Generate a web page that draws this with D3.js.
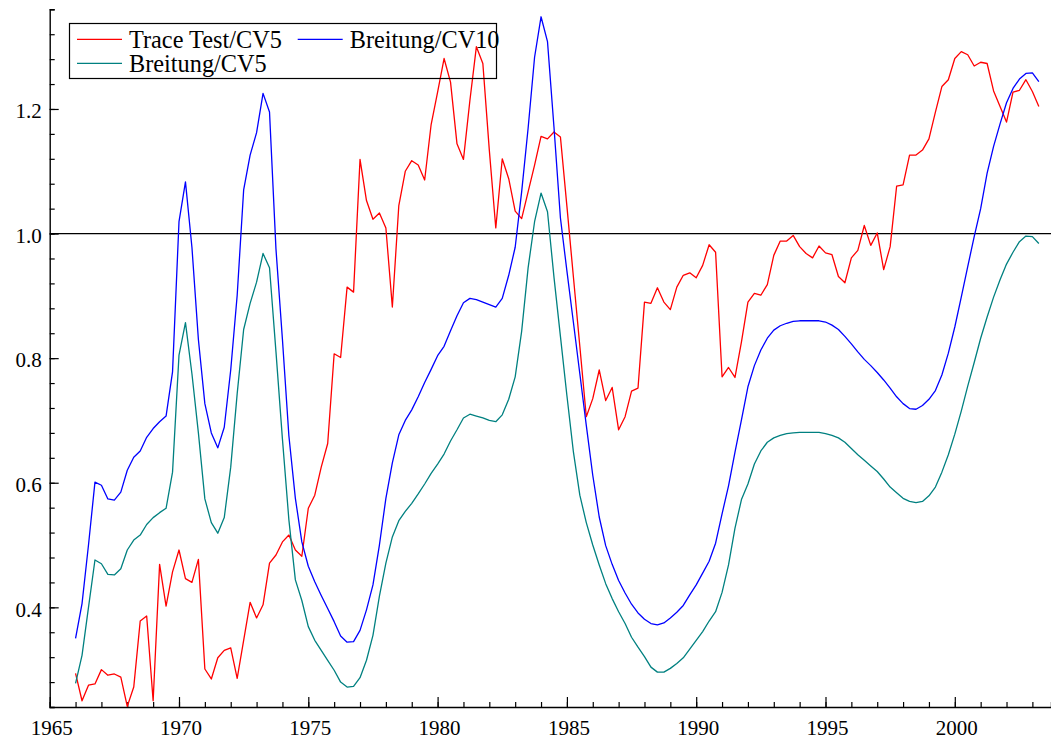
<!DOCTYPE html>
<html>
<head>
<meta charset="utf-8">
<script src="https://cdn.jsdelivr.net/npm/d3@7"></script>
<style>
  body { margin: 0; background: #fff; }
  svg { display: block; }
</style>
</head>
<body>
<div id="chart"></div>
<script>
// quarterly observations, first one is 1966 Q1
var firstQuarter = 1966;
var quartersPerYear = 4;

var traceCV5 = [
  0.294, 0.250, 0.275, 0.277, 0.300, 0.291, 0.293, 0.288, 0.241, 0.272,
  0.378, 0.386, 0.250, 0.469, 0.402, 0.457, 0.492, 0.446, 0.440, 0.477,
  0.301, 0.285, 0.319, 0.331, 0.335, 0.286, 0.347, 0.408, 0.383, 0.404,
  0.471, 0.484, 0.505, 0.516, 0.492, 0.482, 0.559, 0.580, 0.625, 0.663,
  0.807, 0.801, 0.914, 0.906, 1.119, 1.053, 1.023, 1.033, 1.009, 0.882,
  1.045, 1.100, 1.117, 1.110, 1.086, 1.175, 1.227, 1.281, 1.243, 1.144,
  1.119, 1.214, 1.300, 1.273, 1.134, 1.009, 1.120, 1.088, 1.036, 1.024,
  1.067, 1.110, 1.156, 1.152, 1.163, 1.155, 1.044, 0.931, 0.819, 0.706,
  0.735, 0.781, 0.732, 0.753, 0.685, 0.706, 0.747, 0.752, 0.890, 0.888,
  0.913, 0.890, 0.878, 0.914, 0.933, 0.937, 0.929, 0.949, 0.982, 0.970,
  0.770, 0.785, 0.769, 0.826, 0.890, 0.904, 0.901, 0.918, 0.965, 0.988,
  0.988, 0.997, 0.979, 0.968, 0.961, 0.980, 0.969, 0.966, 0.931, 0.921,
  0.961, 0.973, 1.013, 0.981, 1.001, 0.942, 0.979, 1.076, 1.078, 1.126,
  1.126, 1.134, 1.152, 1.195, 1.236, 1.247, 1.281, 1.292, 1.287, 1.269,
  1.275, 1.273, 1.229, 1.204, 1.179, 1.227, 1.230, 1.247, 1.228, 1.204
];

var breitungCV10 = [
  0.350, 0.406, 0.500, 0.601, 0.596, 0.574, 0.572, 0.585, 0.620, 0.641,
  0.651, 0.673, 0.687, 0.698, 0.707, 0.778, 1.019, 1.083, 0.978, 0.830,
  0.727, 0.680, 0.656, 0.689, 0.781, 0.901, 1.070, 1.126, 1.162, 1.225,
  1.195, 0.975, 0.830, 0.675, 0.575, 0.505, 0.466, 0.441, 0.419, 0.398,
  0.377, 0.354, 0.344, 0.345, 0.363, 0.396, 0.436, 0.500, 0.575, 0.632,
  0.677, 0.700, 0.717, 0.738, 0.761, 0.782, 0.804, 0.819, 0.844, 0.868,
  0.889, 0.896, 0.894, 0.890, 0.886, 0.882, 0.896, 0.933, 0.978, 1.067,
  1.169, 1.283, 1.348, 1.308, 1.171, 1.025, 0.940, 0.858, 0.775, 0.692,
  0.612, 0.545, 0.499, 0.469, 0.443, 0.423, 0.405, 0.391, 0.381, 0.374,
  0.372, 0.375, 0.383, 0.392, 0.403, 0.420, 0.436, 0.455, 0.474, 0.503,
  0.550, 0.595, 0.649, 0.701, 0.754, 0.788, 0.813, 0.832, 0.845, 0.852,
  0.856, 0.859, 0.860, 0.860, 0.860, 0.860, 0.858, 0.853, 0.846, 0.835,
  0.823, 0.810, 0.798, 0.788, 0.777, 0.765, 0.752, 0.738, 0.727, 0.719,
  0.718, 0.724, 0.734, 0.748, 0.773, 0.808, 0.850, 0.898, 0.947, 0.995,
  1.040, 1.097, 1.140, 1.176, 1.210, 1.233, 1.248, 1.257, 1.258, 1.244
];

var breitungCV5 = [
  0.278, 0.323, 0.400, 0.476, 0.470, 0.453, 0.452, 0.462, 0.492, 0.508,
  0.516, 0.533, 0.544, 0.552, 0.559, 0.617, 0.805, 0.857, 0.775, 0.680,
  0.574, 0.536, 0.519, 0.544, 0.625, 0.743, 0.846, 0.888, 0.922, 0.968,
  0.945, 0.810, 0.670, 0.540, 0.444, 0.411, 0.369, 0.347, 0.331, 0.315,
  0.299, 0.280, 0.272, 0.273, 0.287, 0.315, 0.355, 0.418, 0.471, 0.513,
  0.539, 0.554, 0.567, 0.582, 0.598, 0.615, 0.630, 0.646, 0.667, 0.685,
  0.704, 0.710, 0.707, 0.704, 0.700, 0.698, 0.709, 0.734, 0.770, 0.843,
  0.945, 1.019, 1.065, 1.035, 0.930, 0.835, 0.740, 0.650, 0.580, 0.536,
  0.500, 0.468, 0.438, 0.414, 0.393, 0.374, 0.352, 0.336, 0.321, 0.304,
  0.296, 0.296, 0.302, 0.310, 0.319, 0.333, 0.347, 0.361, 0.378, 0.393,
  0.424, 0.468, 0.527, 0.573, 0.598, 0.630, 0.651, 0.665, 0.672, 0.676,
  0.679, 0.680, 0.681, 0.681, 0.681, 0.681, 0.679, 0.676, 0.672, 0.665,
  0.655, 0.645, 0.636, 0.627, 0.618, 0.606, 0.593, 0.584, 0.575, 0.570,
  0.568, 0.570, 0.579, 0.593, 0.617, 0.645, 0.678, 0.715, 0.755, 0.793,
  0.832, 0.866, 0.898, 0.926, 0.951, 0.970, 0.987, 0.996, 0.995, 0.984
];

var seriesNames = ["Trace Test/CV5", "Breitung/CV10", "Breitung/CV5"];
var seriesColors = ["#ff0000", "#0000ff", "#008080"];

var xMajorTicks = [1965, 1970, 1975, 1980, 1985, 1990, 1995, 2000];
var yMajorTicks = [0.4, 0.6, 0.8, 1.0, 1.2];
var referenceLevel = 1.0;

var width = 1051, height = 742;
var font = "Liberation Serif, Times New Roman, serif";

var svg = d3.select("#chart").append("svg")
    .attr("width", width)
    .attr("height", height)
    .attr("font-family", font);

svg.append("rect").attr("width", width).attr("height", height).style("fill", "#fff");

var x = d3.scaleLinear().domain([1965, 2003.72]).range([49.7, 1051]);
var y = d3.scaleLinear().domain([0.24, 1.36]).range([707, 9.3]);

// minor ticks: every year / every 0.04
var xMinor = d3.range(1966, 2004);
var yMinor = d3.range(0, 29).map(function(i) { return +(0.24 + i * 0.04).toFixed(2); });

// x axis
var gx = svg.append("g").attr("transform", "translate(0,707)");
gx.call(d3.axisBottom(x).tickValues(xMinor).tickSize(-5).tickFormat(""));
gx.selectAll(".tick line").attr("stroke", "#000").attr("stroke-width", 1.2);
gx.select(".domain").attr("stroke", "#000").attr("stroke-width", 1.4);

var gxMaj = svg.append("g").attr("transform", "translate(0,707)");
gxMaj.call(d3.axisBottom(x).tickValues(xMajorTicks).tickSize(-10).tickFormat(d3.format("d")));
gxMaj.attr("font-family", null).attr("font-size", null);
gxMaj.select(".domain").remove();
gxMaj.selectAll(".tick line").attr("stroke", "#000").attr("stroke-width", 1.2);
gxMaj.selectAll(".tick text")
    .attr("y", 28)
    .attr("dy", 0)
    .attr("dx", 1.5)
    .style("font-family", font)
    .style("font-size", "21px")
    .style("fill", "#000");

// y axis
var gy = svg.append("g").attr("transform", "translate(49.7,0)");
gy.call(d3.axisLeft(y).tickValues(yMinor).tickSize(-5).tickFormat(""));
gy.selectAll(".tick line").attr("stroke", "#000").attr("stroke-width", 1.2);
gy.select(".domain").attr("stroke", "#000").attr("stroke-width", 1.4);

var gyMaj = svg.append("g").attr("transform", "translate(49.7,0)");
gyMaj.call(d3.axisLeft(y).tickValues(yMajorTicks).tickSize(-9).tickFormat(d3.format(".1f")));
gyMaj.attr("font-family", null).attr("font-size", null);
gyMaj.select(".domain").remove();
gyMaj.selectAll(".tick line").attr("stroke", "#000").attr("stroke-width", 1.2);
gyMaj.selectAll(".tick text")
    .attr("x", -8)
    .attr("dy", "0.42em")
    .style("font-family", font)
    .style("font-size", "21px")
    .style("fill", "#000");

// reference line at 1.0
svg.append("line")
    .attr("x1", x(1965)).attr("x2", width)
    .attr("y1", y(referenceLevel)).attr("y2", y(referenceLevel))
    .attr("stroke", "#000")
    .attr("stroke-width", 1.2);

// data lines
var line = d3.line()
    .x(function(d, i) { return x(firstQuarter + i / quartersPerYear); })
    .y(function(d) { return y(d); });

[traceCV5, breitungCV10, breitungCV5].forEach(function(s, k) {
  svg.append("path")
      .datum(s)
      .attr("d", line)
      .attr("fill", "none")
      .attr("stroke", seriesColors[k])
      .attr("stroke-width", 1.3)
      .attr("stroke-linejoin", "round");
});

// legend
var legend = svg.append("g");
legend.append("rect")
    .attr("x", 69.5).attr("y", 23.5)
    .attr("width", 427).attr("height", 55)
    .attr("fill", "none")
    .attr("stroke", "#000")
    .attr("stroke-width", 1.2);

var legendPos = [[77, 39.3], [297.7, 39.3], [77, 63.3]];
seriesNames.forEach(function(name, k) {
  var p = legendPos[k];
  legend.append("line")
      .attr("x1", p[0]).attr("x2", p[0] + 45)
      .attr("y1", p[1]).attr("y2", p[1])
      .attr("stroke", seriesColors[k])
      .attr("stroke-width", 1.3);
  legend.append("text")
      .attr("x", p[0] + 52)
      .attr("y", p[1] + 8.4)
      .style("font-family", font)
      .style("font-size", "24.3px")
      .style("fill", "#000")
      .text(name);
});
</script>
</body>
</html>
